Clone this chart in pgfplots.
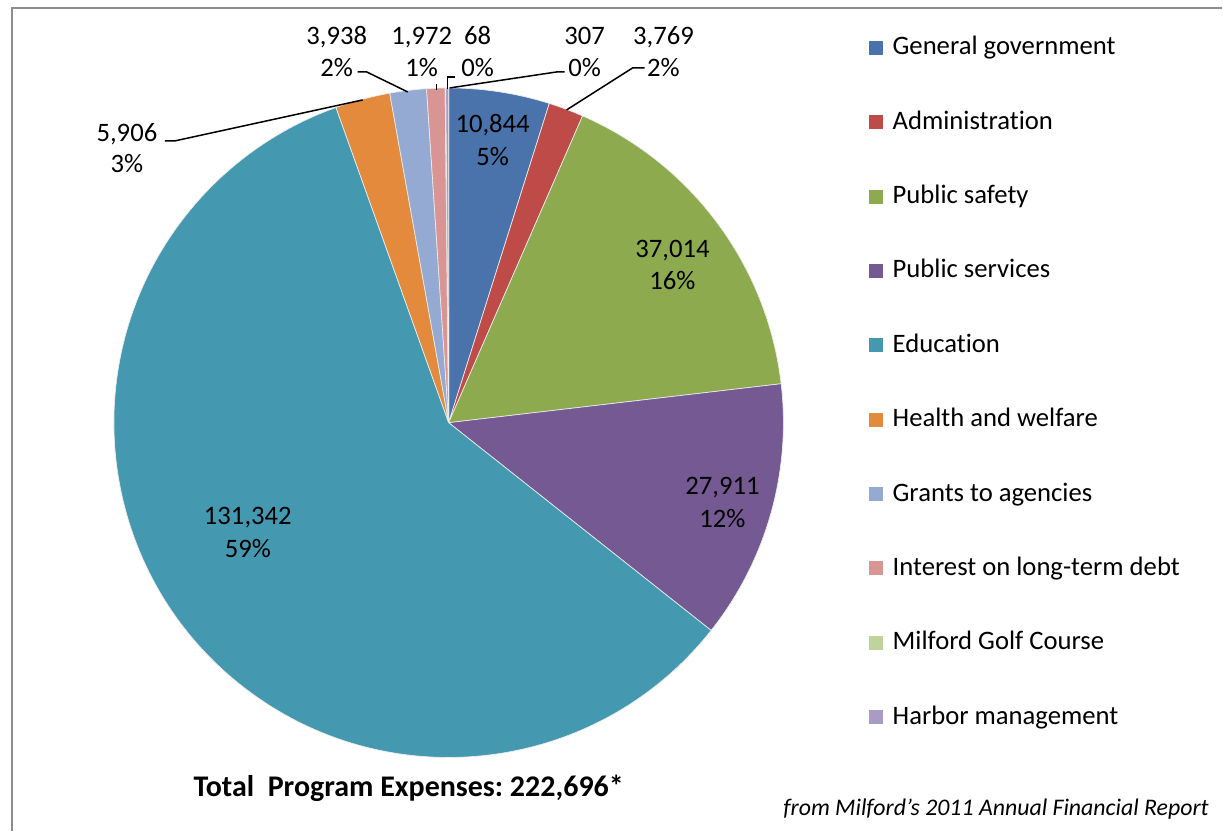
\documentclass[border=0pt]{standalone}
\usepackage{pgfplots}
\usepackage{pgfplotstable}
\usepackage{fontspec}
\setmainfont{Carlito}[Ligatures=NoCommon]
\pgfplotsset{compat=1.18}

\definecolor{cGG}{HTML}{4A73AB}
\definecolor{cAdm}{HTML}{BE4B48}
\definecolor{cPS}{HTML}{8DAA4F}
\definecolor{cPSv}{HTML}{745992}
\definecolor{cEdu}{HTML}{4499B1}
\definecolor{cHW}{HTML}{E38A3C}
\definecolor{cGr}{HTML}{95AAD2}
\definecolor{cInt}{HTML}{D99593}
\definecolor{cGolf}{HTML}{BFD49A}
\definecolor{cHarb}{HTML}{A99BC3}
\definecolor{frame}{HTML}{8C8C8C}

% program expenses, clockwise from 12 o'clock
\pgfplotstableread{
value  color
10844  cGG
3769   cAdm
37014  cPS
27911  cPSv
131342 cEdu
5906   cHW
3938   cGr
1972   cInt
68     cGolf
307    cHarb
}\piedata

\def\tot{0}
\pgfplotsforeachungrouped \i in {0,...,9}{%
  \pgfplotstablegetelem{\i}{value}\of\piedata
  \xdef\tot{\fpeval{\tot+\pgfplotsretval}}%
}

\tikzset{
  lab/.style={anchor=base, inner sep=0pt, font=\fontsize{16}{19}\selectfont},
  lead/.style={black, line width=0.9pt},
}
% x, baseline 1, baseline 2, line 1, line 2
\newcommand{\lbl}[5]{%
  \node[lab] at (axis cs:#1,#2) {#4};
  \node[lab] at (axis cs:#1,#3) {#5};}
% baseline, colour, text
\newcommand{\legitem}[3]{%
  \fill[#2] (axis cs:870,#1-14) rectangle (axis cs:884,#1);
  \node[lab, anchor=base west] at (axis cs:893,#1) {#3};}

\begin{document}
\begin{tikzpicture}
\begin{axis}[
  hide axis, scale only axis,
  width=733.8pt, height=499.2pt,
  xmin=0, xmax=1223, ymin=0, ymax=832,
  y dir=reverse, clip=false,
]
\addplot[draw=none] coordinates {(0,0) (1223,832)};

% slices
\def\acc{90}
\pgfplotsforeachungrouped \i in {0,...,9}{%
  \pgfplotstablegetelem{\i}{value}\of\piedata
  \edef\endang{\fpeval{\acc-\pgfplotsretval/\tot*360}}%
  \pgfplotstablegetelem{\i}{color}\of\piedata
  \edef\temp{\noexpand\fill[\pgfplotsretval, draw=white!85!gray, line width=0.4pt]
    (axis cs:449,423) -- ++(\acc:201pt)
    arc[start angle=\acc, end angle=\endang, radius=201pt] -- cycle;}%
  \temp
  \global\let\acc\endang
}

% frame
\draw[frame, line width=1.1pt] (axis cs:12,832) -- (axis cs:12,8) -- (axis cs:1223,8);

% data labels
\lbl{493}{133}{166}{10,844}{5\%}
\lbl{673}{258}{290}{37,014}{16\%}
\lbl{723}{495}{528}{27,911}{12\%}
\lbl{248}{525}{558}{131,342}{59\%}
\lbl{127}{142}{173}{5,906}{3\%}
\lbl{337}{45}{77}{3,938}{2\%}
\lbl{422}{45}{77}{1,972}{1\%}
\lbl{478}{45}{77}{68}{0\%}
\lbl{585}{45}{77}{307}{0\%}
\lbl{664}{45}{77}{3,769}{2\%}

% leader lines
\draw[lead] (axis cs:165,141) -- (axis cs:175,141) -- (axis cs:363,100);
\draw[lead] (axis cs:358,72) -- (axis cs:367,72) -- (axis cs:408,92);
\draw[lead] (axis cs:437,84) -- (axis cs:437,90);
\draw[lead] (axis cs:455,77) -- (axis cs:448,77) -- (axis cs:448,89);
\draw[lead] (axis cs:565,72) -- (axis cs:557,72) -- (axis cs:450,88);
\draw[lead] (axis cs:645,68) -- (axis cs:633,68) -- (axis cs:567,110);

% legend
\legitem{55}{cGG}{General government}
\legitem{129.4}{cAdm}{Administration}
\legitem{203.8}{cPS}{Public safety}
\legitem{278.2}{cPSv}{Public services}
\legitem{352.6}{cEdu}{Education}
\legitem{427}{cHW}{Health and welfare}
\legitem{501.4}{cGr}{Grants to agencies}
\legitem{575.8}{cInt}{Interest on long-term debt}
\legitem{650.2}{cGolf}{Milford Golf Course}
\legitem{724.6}{cHarb}{Harbor management}

% captions
\node[anchor=base, inner sep=0pt, font=\fontsize{18}{21}\selectfont\bfseries]
  at (axis cs:409,797) {Total\ \ Program Expenses:\ 222,696*};
\node[anchor=base east, inner sep=0pt, font=\fontsize{14.3}{17}\selectfont\itshape]
  at (axis cs:1210,816) {from Milford's 2011 Annual Financial Report};
\end{axis}
\useasboundingbox (current axis.south west) rectangle (current axis.north east);
\end{tikzpicture}
\end{document}
